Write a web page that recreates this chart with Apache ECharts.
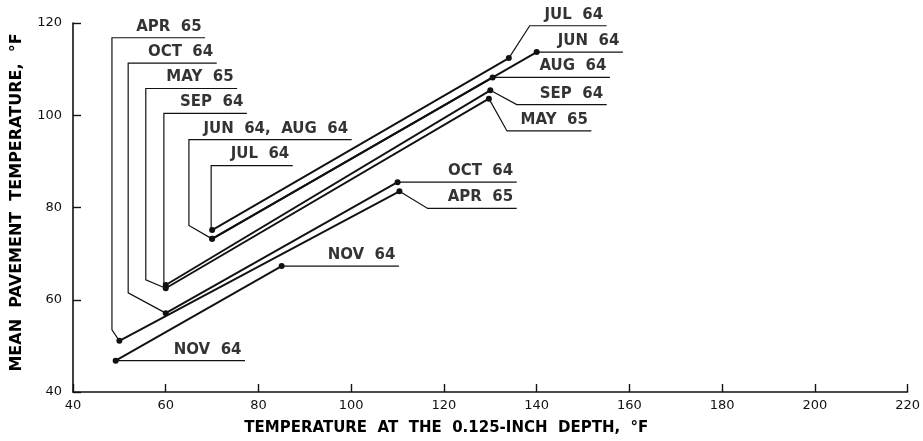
<!DOCTYPE html>
<html>
<head>
<meta charset="utf-8">
<script src="https://cdn.jsdelivr.net/npm/echarts@6/dist/echarts.min.js"></script>
<style>
html,body{margin:0;padding:0;background:#fff;}
#chart{width:923px;height:441px;}
</style>
</head>
<body>
<div id="chart"></div>
<script>
// ---- data ----
const months = ['JUN 64', 'JUL 64', 'AUG 64', 'SEP 64', 'OCT 64', 'NOV 64', 'APR 65', 'MAY 65'];
// each month: line from the low point to the high point
const xLow  = [70, 70, 70, 60, 60, 49.2, 50, 60];
const yLow  = [73.2, 75.1, 73.2, 63.2, 57.1, 46.8, 51.1, 62.5];
const xHigh = [140, 134, 130.5, 130, 110, 85, 110.4, 129.7];
const yHigh = [113.7, 112.4, 108.2, 105.4, 85.5, 67.3, 83.5, 103.6];

const xTicks = [40, 60, 80, 100, 120, 140, 160, 180, 200, 220];
const yTicks = [40, 60, 80, 100, 120];

// annotation leaders (label text, leader path in data units, first point = label anchor)
const leaderLabels = ['APR 65', 'OCT 64', 'MAY 65', 'SEP 64', 'JUN 64, AUG 64', 'JUL 64', 'NOV 64',
                      'JUL 64', 'JUN 64', 'AUG 64', 'SEP 64', 'MAY 65', 'OCT 64', 'APR 65', 'NOV 64'];
const leaderPaths = [
  [[68.5,116.8],[48.4,116.8],[48.4,53.5],[50,51.1]],
  [[71.0,111.3],[51.9,111.3],[51.9,61.5],[60,57.1]],
  [[75.4,105.8],[55.7,105.8],[55.7,64.3],[60,62.5]],
  [[77.5,100.4],[59.6,100.4],[59.6,63.2]],
  [[100.1,94.7],[65.0,94.7],[65.0,76.1],[70,73.2]],
  [[87.4,89.1],[69.8,89.1],[69.8,75.1]],
  [[77.1,46.8],[49.2,46.8]],
  [[155.1,119.4],[138.5,119.4],[134,112.4]],
  [[158.6,113.7],[140,113.7]],
  [[155.8,108.2],[130.5,108.2]],
  [[155.1,102.3],[135.7,102.3],[130,105.4]],
  [[151.8,96.6],[133.6,96.6],[129.7,103.6]],
  [[135.7,85.5],[110,85.5]],
  [[135.7,79.8],[116.5,79.8],[110.4,83.5]],
  [[110.3,67.3],[85,67.3]]
];

// ---- chart ----
const INK = '#111';
const FONT = '"DejaVu Sans", sans-serif';
const chart = echarts.init(document.getElementById('chart'));

const series = [];
months.forEach((m, i) => {
  series.push({
    type: 'line',
    name: m,
    data: [[xLow[i], yLow[i]], [xHigh[i], yHigh[i]]],
    symbol: 'circle',
    symbolSize: 6,
    showSymbol: true,
    lineStyle: {color: INK, width: 1.9},
    itemStyle: {color: INK},
    silent: true,
    z: 3
  });
});

series.push({
  type: 'lines',
  coordinateSystem: 'cartesian2d',
  polyline: true,
  lineStyle: {color: INK, width: 1.2, opacity: 1},
  data: leaderPaths.map(p => ({coords: p})),
  silent: true,
  z: 2
});

series.push({
  type: 'scatter',
  symbolSize: 1,
  itemStyle: {color: 'rgba(0,0,0,0)'},
  data: leaderPaths.map((p, i) => ({value: p[0], name: leaderLabels[i]})),
  label: {
    show: true,
    formatter: d => d.name.replace(/ /g, '  '),
    position: [-3, -3],
    align: 'right',
    verticalAlign: 'bottom',
    color: '#000',
    fontFamily: FONT,
    fontWeight: 'bold',
    fontSize: 15
  },
  silent: true,
  z: 4
});

chart.setOption({
  backgroundColor: '#fff',
  animation: false,
  grid: {left: 73, right: 15, top: 23, bottom: 46, containLabel: false},
  xAxis: {
    type: 'value',
    min: xTicks[0], max: xTicks[xTicks.length - 1], interval: 20,
    name: 'TEMPERATURE  AT  THE  0.125-INCH  DEPTH,  °F',
    nameLocation: 'middle',
    nameGap: 29,
    nameTextStyle: {color: '#000', fontFamily: FONT, fontWeight: 'bold', fontSize: 15, padding: [0, 88, 0, 0]},
    axisLine: {show: true, lineStyle: {color: INK, width: 1.6}},
    axisTick: {show: true, inside: true, length: 8, lineStyle: {color: INK, width: 1.4}},
    axisLabel: {color: INK, fontFamily: FONT, fontSize: 13, margin: 7},
    splitLine: {show: false}
  },
  yAxis: {
    type: 'value',
    min: yTicks[0], max: yTicks[yTicks.length - 1], interval: 20,
    name: 'MEAN  PAVEMENT  TEMPERATURE,  °F',
    nameLocation: 'middle',
    nameGap: 48,
    nameRotate: 90,
    nameTextStyle: {color: '#000', fontFamily: FONT, fontWeight: 'bold', fontSize: 16, padding: [0, 0, 0, 10]},
    axisLine: {show: true, lineStyle: {color: INK, width: 1.6}},
    axisTick: {show: true, inside: true, length: 8, lineStyle: {color: INK, width: 1.4}},
    axisLabel: {color: INK, fontFamily: FONT, fontSize: 13, margin: 11},
    splitLine: {show: false}
  },
  series: series
});
</script>
</body>
</html>
